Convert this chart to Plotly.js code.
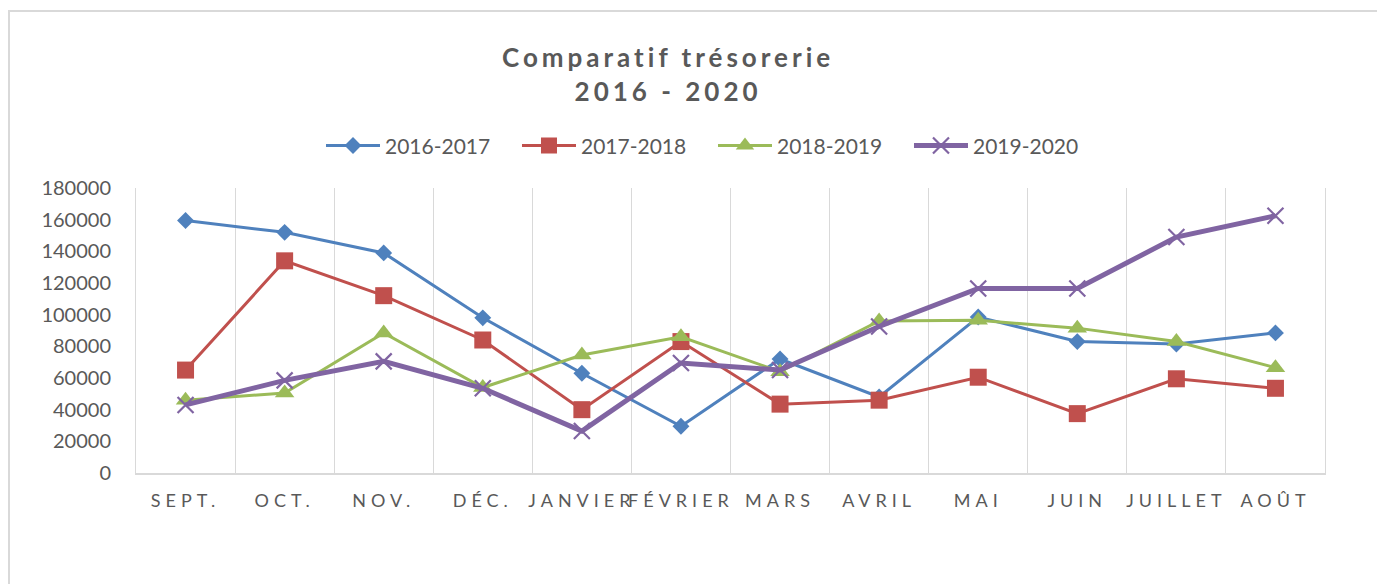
<!DOCTYPE html>
<html>
<head>
<meta charset="utf-8">
<script src="https://cdn.plot.ly/plotly-3.0.1.min.js"></script>
<style>
  html, body { margin: 0; padding: 0; background: #fff; overflow: hidden; }
  #frame { position: absolute; left: 8px; top: 10px; width: 1369px; height: 574px;
           border-left: 2px solid #d9d9d9; border-top: 2px solid #d9d9d9; box-sizing: border-box; }
  #chart { position: absolute; left: 0; top: 0; width: 1367px; height: 572px; }
  .gtitle { letter-spacing: 4px; }
  .xtick text { letter-spacing: 5px; }
</style>
</head>
<body>
<div id="frame"><div id="chart"></div></div>
<script>
const months = ['SEPT.','OCT.','NOV.','DÉC.','JANVIER','FÉVRIER','MARS','AVRIL','MAI','JUIN','JUILLET','AOÛT'];
const seriesNames = ['2016-2017','2017-2018','2018-2019','2019-2020'];
const s2016 = [159500, 152000, 139000, 98000, 63000, 29500, 72000, 48000, 98500, 83000, 81500, 88500];
const s2017 = [65000, 134000, 112000, 84000, 40000, 83000, 43500, 46000, 60500, 37500, 59500, 53500];
const s2018 = [46000, 50500, 88500, 54000, 74500, 86000, 64000, 96000, 96500, 91500, 83000, 66500];
const s2019 = [43000, 58500, 70500, 53500, 26500, 69500, 65000, 92500, 116500, 116500, 149000, 162500];
const yTicks = [0, 20000, 40000, 60000, 80000, 100000, 120000, 140000, 160000, 180000];

const traces = [
  {x: months, y: s2016, name: seriesNames[0], type: 'scatter', mode: 'lines+markers',
   line: {color: '#4F81BD', width: 3}, marker: {symbol: 'diamond', size: 13, color: '#4F81BD'}},
  {x: months, y: s2017, name: seriesNames[1], type: 'scatter', mode: 'lines+markers',
   line: {color: '#C0504D', width: 3}, marker: {symbol: 'square', size: 17, color: '#C0504D'}},
  {x: months, y: s2018, name: seriesNames[2], type: 'scatter', mode: 'lines+markers',
   line: {color: '#9BBB59', width: 3}, marker: {symbol: 'triangle-up', size: 17, color: '#9BBB59'}},
  {x: months, y: s2019, name: seriesNames[3], type: 'scatter', mode: 'lines+markers',
   line: {color: '#8064A2', width: 5}, marker: {symbol: 'x-thin', size: 16, color: '#8064A2', line: {color: '#8064A2', width: 2.2}}}
];

const layout = {
  width: 1367, height: 572,
  margin: {l: 126, r: 52, t: 176, b: 111},
  paper_bgcolor: '#fff', plot_bgcolor: '#fff',
  font: {family: 'Lato, "Open Sans", sans-serif', color: '#595959'},
  title: {text: 'Comparatif trésorerie<br>2016 - 2020', x: 0.4814, xref: 'container', xanchor: 'center',
          y: 0.903, yref: 'container', yanchor: 'top',
          font: {family: 'Lato, "Open Sans", sans-serif', size: 26, weight: 'bold', color: '#595959'}},
  showlegend: true,
  legend: {orientation: 'h', x: 0.2275, xref: 'container', xanchor: 'left', y: 0.766, yref: 'container', yanchor: 'middle',
           font: {size: 21, color: '#595959'}, itemwidth: 54, entrywidth: 127, entrywidthmode: 'pixels', traceorder: 'normal'},
  xaxis: {type: 'category', range: [-0.5, 11.5], tickson: 'boundaries', showgrid: true, gridcolor: '#d9d9d9', gridwidth: 1,
          showline: true, linecolor: '#d9d9d9', linewidth: 2, ticks: '', ticklabelstandoff: 10,
          tickfont: {size: 18, color: '#595959'}, zeroline: false, fixedrange: true},
  yaxis: {range: [0, 180000], tickmode: 'array', tickvals: yTicks, tickformat: 'd', showgrid: false, zeroline: false,
          showline: true, mirror: true, linecolor: '#d9d9d9', linewidth: 1,
          ticks: 'outside', ticklen: 20, tickcolor: 'rgba(0,0,0,0)',
          tickfont: {size: 20, color: '#595959'}, fixedrange: true}
};

Plotly.newPlot('chart', traces, layout, {displayModeBar: false, staticPlot: true});
</script>
</body>
</html>
